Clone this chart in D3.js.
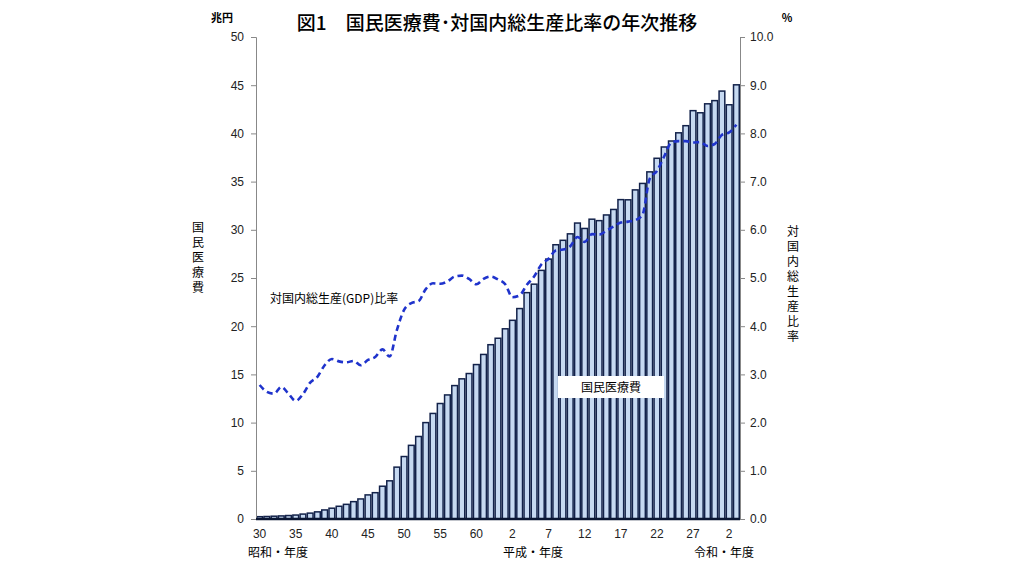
<!DOCTYPE html>
<html><head><meta charset="utf-8">
<script src="https://cdn.jsdelivr.net/npm/d3@7"></script>
<style>body{margin:0;background:#fff}text{font-family:"Noto Sans CJK JP",sans-serif}</style>
</head><body><svg id="c" width="1024" height="576"></svg>
<script>
const years = d3.range(1955, 2022);
const cost = [0.24,0.26,0.29,0.32,0.36,0.41,0.51,0.61,0.74,0.94,1.12,1.32,1.52,1.80,2.08,2.50,2.73,3.40,3.96,5.38,6.48,7.64,8.56,10.00,10.95,11.98,12.87,13.84,14.54,15.09,16.02,17.07,18.08,18.75,19.73,20.61,21.83,23.48,24.36,25.79,26.96,28.45,28.91,29.58,30.70,30.14,31.10,30.95,31.54,32.11,33.13,33.11,34.14,34.81,36.01,37.42,38.59,39.21,40.06,40.80,42.36,42.14,43.07,43.40,44.39,42.97,45.04];
const ratio = [2.78,2.64,2.60,2.74,2.60,2.45,2.59,2.83,2.95,3.19,3.32,3.27,3.25,3.28,3.19,3.30,3.36,3.52,3.37,3.92,4.34,4.48,4.52,4.77,4.89,4.88,4.93,5.03,5.05,4.98,4.87,4.98,5.03,4.97,4.87,4.60,4.64,4.86,5.03,5.28,5.40,5.57,5.59,5.66,5.85,5.75,5.91,5.90,5.98,6.07,6.15,6.17,6.20,6.31,7.06,7.22,7.52,7.81,7.84,7.84,7.81,7.82,7.74,7.78,7.97,8.02,8.18];
const xLabels = [[1955,"30"],[1960,"35"],[1965,"40"],[1970,"45"],[1975,"50"],[1980,"55"],[1985,"60"],[1990,"2"],[1995,"7"],[2000,"12"],[2005,"17"],[2010,"22"],[2015,"27"],[2020,"2"]];
const leftTicks = d3.range(0, 51, 5);
const rightTicks = d3.range(0, 10.01, 1);

const svg = d3.select("#c");
const L=256, R=740, T=37, B=519;
const x = d3.scaleBand().domain(years).range([L,R]).padding(0);
const y = d3.scaleLinear().domain([0,50]).range([B,T]);
const y2 = d3.scaleLinear().domain([0,10]).range([B,T]);

svg.append("g").selectAll("rect").data(years).join("rect")
  .attr("x", (d)=>x(d)+0.75).attr("width", x.bandwidth()-1.5)
  .attr("y", (d,i)=>y(cost[i])).attr("height",(d,i)=>B-y(cost[i]))
  .attr("fill","#c6d9f1").attr("stroke","#13224a").attr("stroke-width",1.5);

const la = svg.append("g").attr("transform",`translate(${L},0)`)
  .call(d3.axisLeft(y).tickValues(leftTicks).tickSize(5).tickFormat(d3.format("d")));
const ra = svg.append("g").attr("transform",`translate(${R},0)`)
  .call(d3.axisRight(y2).tickValues(rightTicks).tickSize(5).tickFormat(d3.format(".1f")));
[la,ra].forEach(a=>{a.select(".domain").attr("stroke","#888");a.selectAll(".tick line").attr("stroke","#888");
  a.selectAll("text").attr("font-size",12).attr("fill","#222").style("font-family","Liberation Sans, sans-serif");});
la.selectAll("text").attr("x",-12);
ra.selectAll("text").attr("x",10);
svg.append("line").attr("x1",L).attr("x2",R).attr("y1",B).attr("y2",B).attr("stroke","#0a1633").attr("stroke-width",2.5);

svg.append("g").selectAll("text").data(xLabels).join("text")
  .attr("x",d=>x(d[0])+x.bandwidth()/2).attr("y",538).attr("text-anchor","middle")
  .attr("font-size",12).style("font-family","Liberation Sans, sans-serif").attr("fill","#222").text(d=>d[1]);

const line = d3.line().x((d,i)=>x(years[i])+x.bandwidth()/2).y(d=>y2(d)).curve(d3.curveMonotoneX);
svg.append("path").datum(ratio).attr("d",line).attr("fill","none")
  .attr("stroke","#1f33cc").attr("stroke-width",2.6).attr("stroke-dasharray","6,4");

svg.append("rect").attr("x",558).attr("y",376).attr("width",106).attr("height",22).attr("fill","#fff");
svg.append("text").attr("x",611).attr("y",392).attr("text-anchor","middle").attr("font-size",12).text("国民医療費");
svg.append("text").attr("x",270).attr("y",303).attr("font-size",12).text("対国内総生産(GDP)比率");

svg.append("text").attr("x",497).attr("y",30).attr("text-anchor","middle").attr("font-size",19).attr("font-weight",500).text("図1　国民医療費･対国内総生産比率の年次推移");
svg.append("text").attr("x",222).attr("y",22).attr("text-anchor","middle").attr("font-size",11).attr("font-weight","bold").text("兆円");
svg.append("text").attr("x",787).attr("y",22).attr("text-anchor","middle").attr("font-size",11).attr("font-weight","bold").text("%");

function vtext(cx, cy0, s){ svg.append("g").selectAll("text").data([...s]).join("text")
  .attr("x",cx).attr("y",(d,i)=>cy0+i*15).attr("text-anchor","middle").attr("font-size",12).text(d=>d); }
vtext(198, 232, "国民医療費");
vtext(793, 236, "対国内総生産比率");

svg.append("text").attr("x",248).attr("y",557).attr("font-size",12).text("昭和・年度");
svg.append("text").attr("x",503).attr("y",557).attr("font-size",12).text("平成・年度");
svg.append("text").attr("x",694).attr("y",557).attr("font-size",12).text("令和・年度");
</script></body></html>
